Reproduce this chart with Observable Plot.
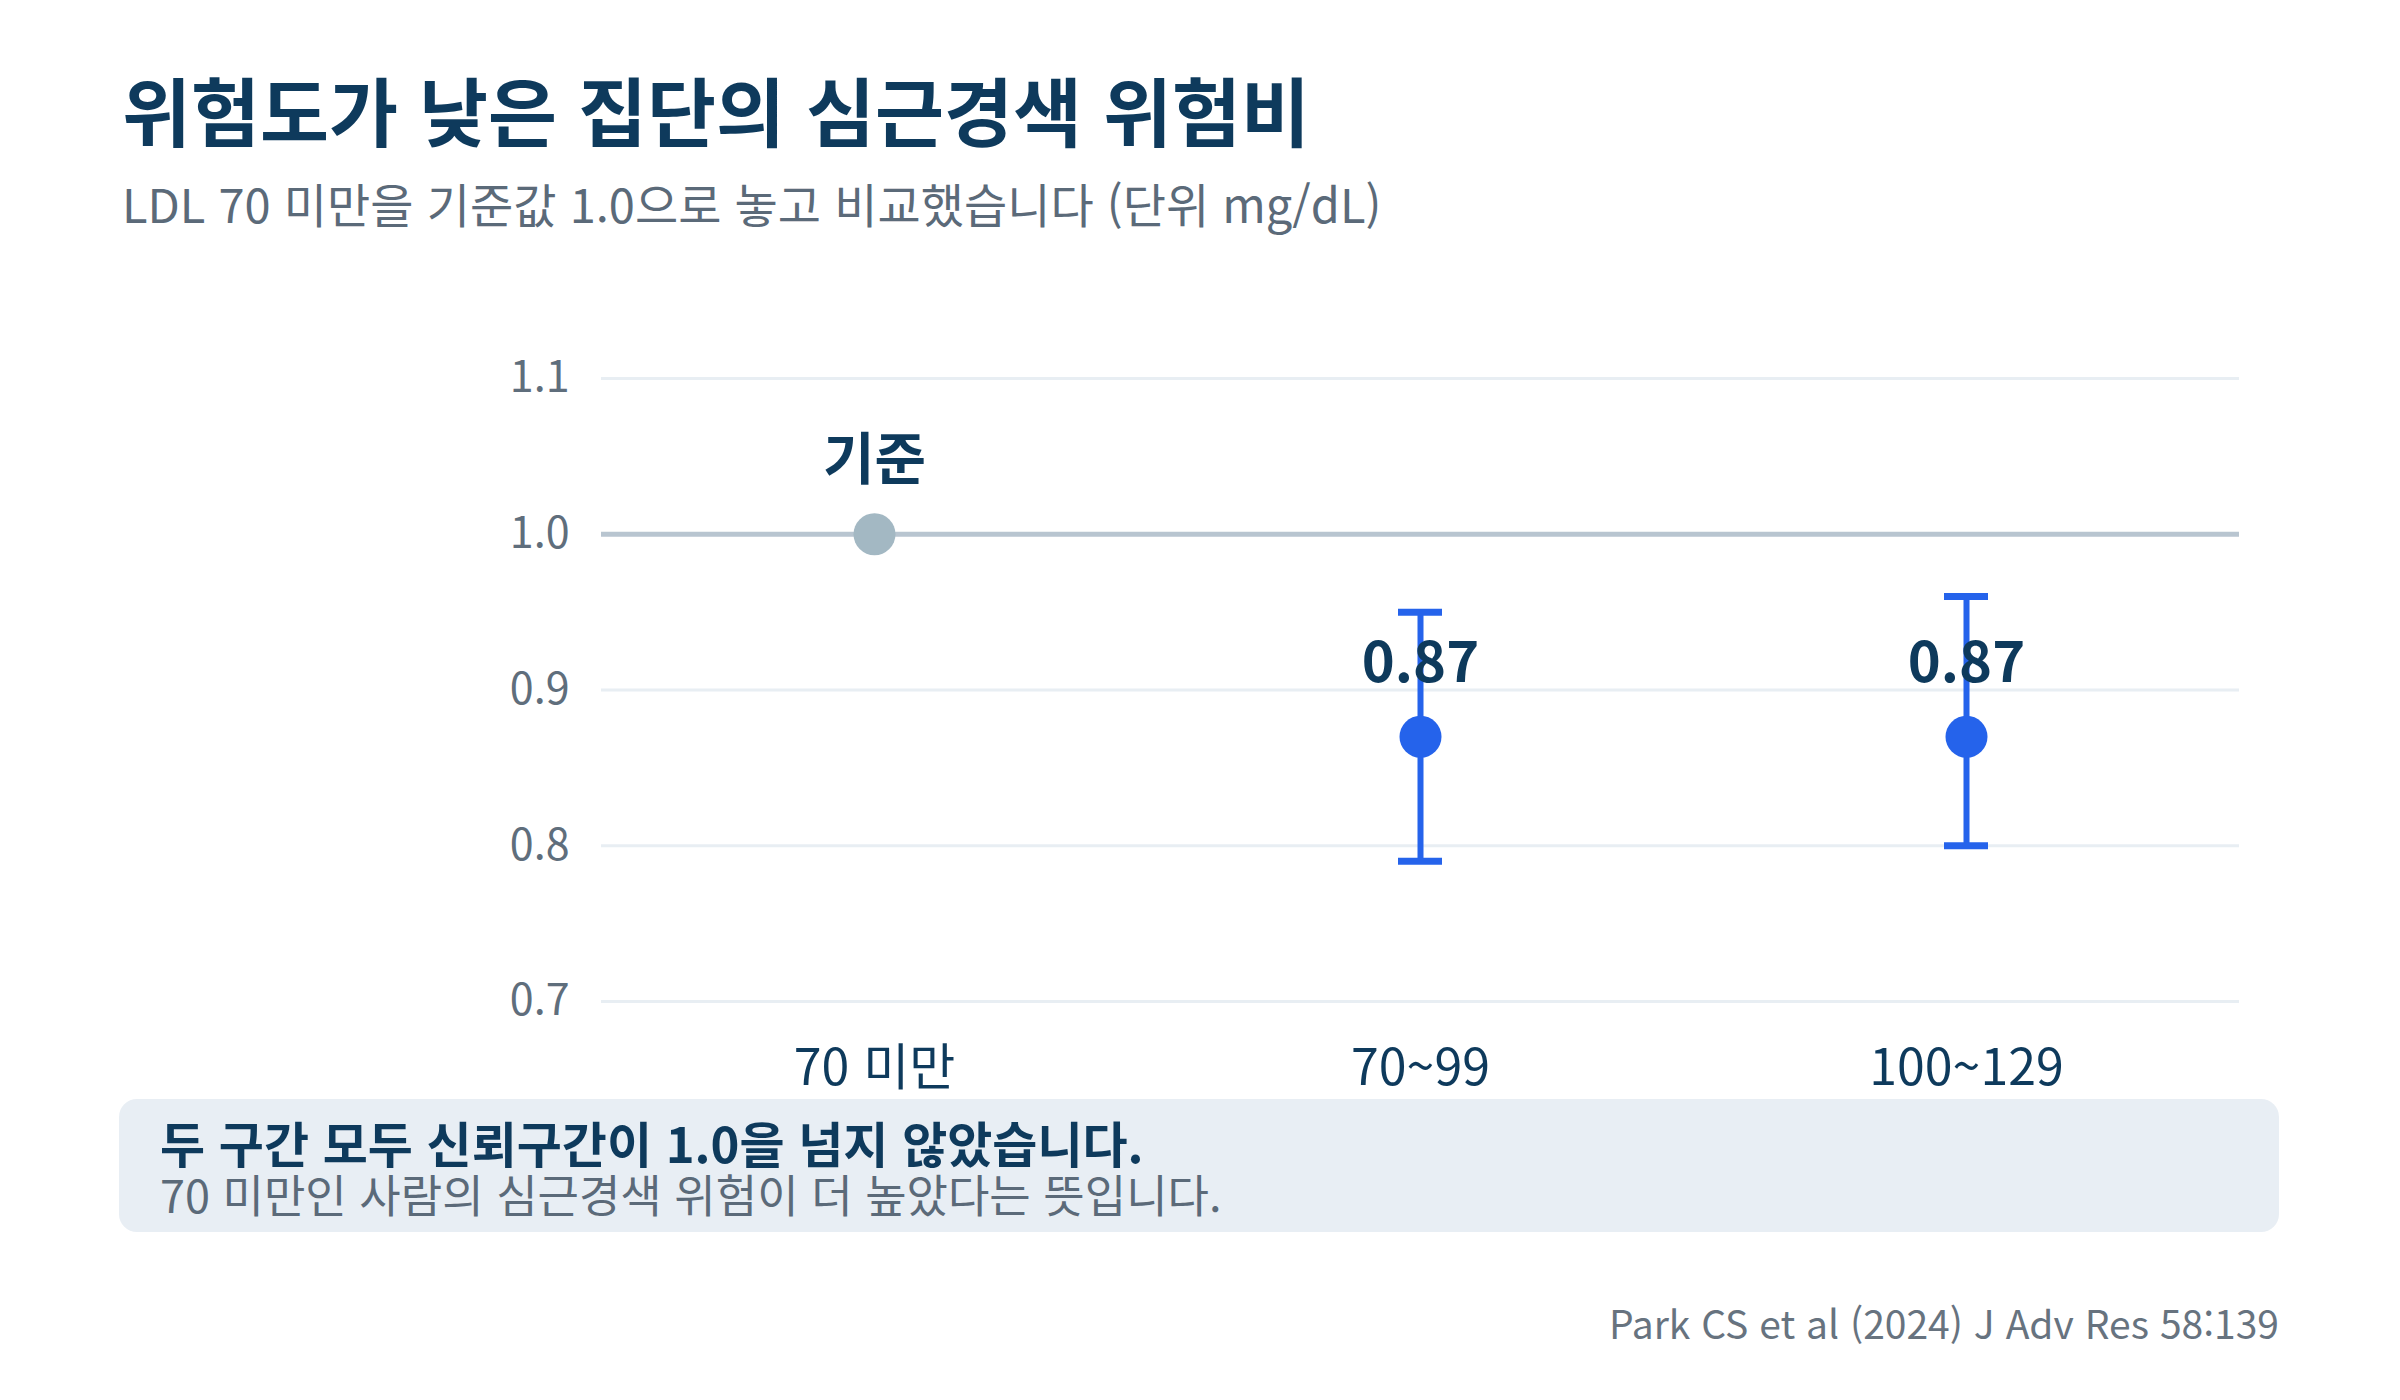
<!DOCTYPE html>
<html lang="ko">
<head>
<meta charset="utf-8">
<script src="https://cdn.jsdelivr.net/npm/d3@7"></script>
<script src="https://cdn.jsdelivr.net/npm/@observablehq/plot@0.6"></script>
<style>
  html, body { margin: 0; padding: 0; background: #ffffff; }
  body { font-family: "Noto Sans CJK KR", "Noto Sans", sans-serif; }
  #page { position: relative; width: 2400px; height: 1400px; overflow: hidden; background: #ffffff; }
  .abs { position: absolute; line-height: 1; white-space: nowrap; }
  #title { left: 122px; top: 71px; font-size: 75px; font-weight: 700; color: #0e3a5c; }
  #subtitle { left: 122px; top: 179px; font-size: 47px; font-weight: 400; color: #5b6a79; }
  #chart { position: absolute; left: 0; top: 330px; }
  #box { position: absolute; left: 119px; top: 1099px; width: 2160px; height: 133px; border-radius: 18px; background: #e8eef4; }
  #note1 { left: 160px; top: 1117px; font-size: 49px; font-weight: 700; color: #0e3a5c; }
  #note2 { left: 160px; top: 1171px; font-size: 45px; font-weight: 400; color: #5b6a79; }
  #caption { right: 121px; top: 1303px; font-size: 39px; font-weight: 400; color: #67737f; }
</style>
</head>
<body>
<div id="page">
  <div id="title" class="abs">위험도가 낮은 집단의 심근경색 위험비</div>
  <div id="subtitle" class="abs">LDL 70 미만을 기준값 1.0으로 놓고 비교했습니다 (단위 mg/dL)</div>
  <div id="chart"></div>
  <div id="box"></div>
  <div id="note1" class="abs">두 구간 모두 신뢰구간이 1.0을 넘지 않았습니다.</div>
  <div id="note2" class="abs">70 미만인 사람의 심근경색 위험이 더 높았다는 뜻입니다.</div>
  <div id="caption" class="abs">Park CS et al (2024) J Adv Res 58:139</div>
</div>
<script>
// ---- data ----
const categories = ["70 미만", "70~99", "100~129"];
const hazardRatio = [1.0, 0.87, 0.87];
const ciLow = [null, 0.79, 0.80];
const ciHigh = [null, 0.95, 0.96];
const pointLabels = ["기준", "0.87", "0.87"];
const isReference = [true, false, false];
const yTicks = [0.7, 0.8, 0.9, 1.0, 1.1];
const gridTicks = [0.7, 0.8, 0.9, 1.1];
const referenceValue = [1.0];

const rows = categories.map((c, i) => ({
  cat: c, hr: hazardRatio[i], lo: ciLow[i], hi: ciHigh[i], label: pointLabels[i], ref: isReference[i]
}));
const ciRows = rows.filter(d => d.lo != null);

const navy = "#0e3a5c";
const blue = "#2563eb";
const font = '"Noto Sans CJK KR", "Noto Sans", sans-serif';

const chart = Plot.plot({
  width: 2400,
  height: 800,
  marginLeft: 601,
  marginRight: 161,
  marginTop: 48,
  marginBottom: 129,
  style: { fontFamily: font, background: "transparent", overflow: "visible" },
  x: { domain: categories, padding: 0, label: null },
  y: { domain: [0.7, 1.1], label: null },
  marks: [
    Plot.ruleY(gridTicks, { stroke: "#e8eef3", strokeWidth: 3 }),
    Plot.ruleY(referenceValue, { stroke: "#b8c5d0", strokeWidth: 5 }),
    Plot.axisY({ ticks: yTicks, tickFormat: d3.format(".1f"), tickSize: 0, tickPadding: 32, fontSize: 43, fill: "#5f6e7c", label: null }),
    Plot.axisX({ tickSize: 0, tickPadding: 48, fontSize: 50, fill: navy, label: null }),
    Plot.ruleX(ciRows, { x: "cat", y1: "lo", y2: "hi", stroke: blue, strokeWidth: 6 }),
    Plot.tickY(ciRows, { x: "cat", y: "lo", stroke: blue, strokeWidth: 7, insetLeft: 251, insetRight: 251 }),
    Plot.tickY(ciRows, { x: "cat", y: "hi", stroke: blue, strokeWidth: 7, insetLeft: 251, insetRight: 251 }),
    Plot.dot(rows, { x: "cat", y: "hr", r: 21, fill: d => d.ref ? "#a3b8c3" : blue, stroke: null }),
    Plot.text(rows, { x: "cat", y: "hr", text: "label", dy: -73, fontSize: 56, fontWeight: 700, fill: navy })
  ]
});
document.getElementById("chart").appendChild(chart);
</script>
</body>
</html>
